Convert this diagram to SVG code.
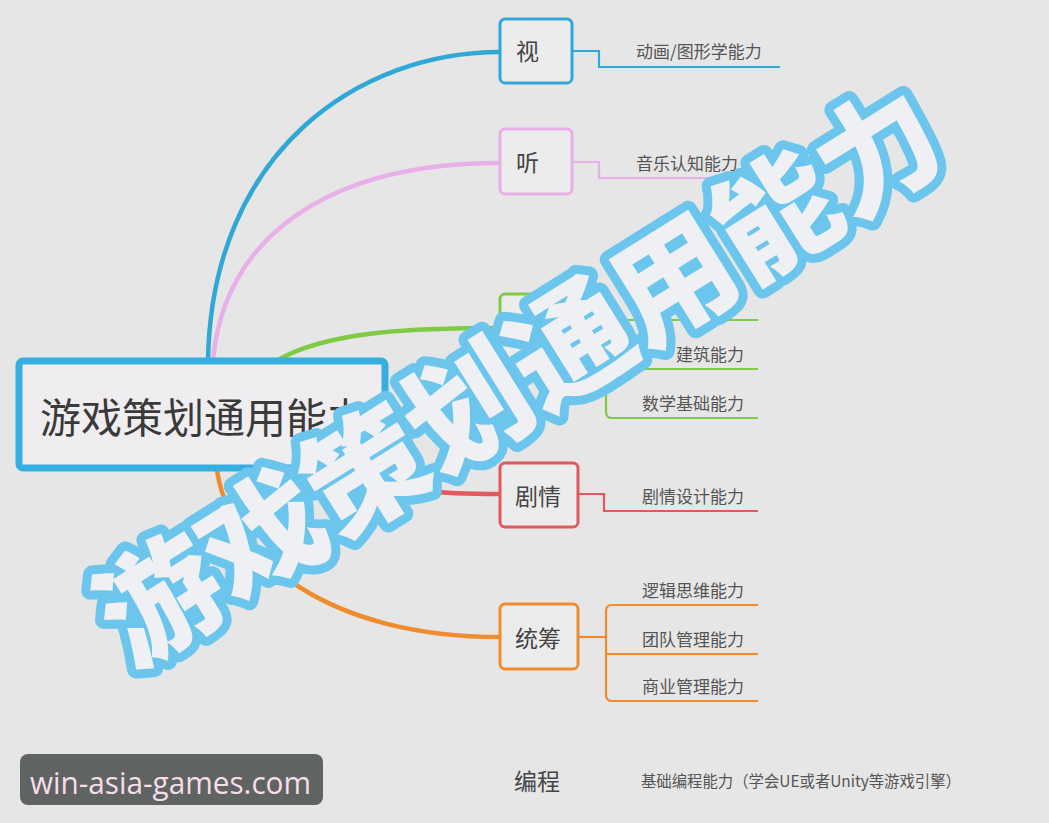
<svg xmlns="http://www.w3.org/2000/svg" width="1049" height="823" viewBox="0 0 1049 823">
  <style>
    .cjk { font-family: "Noto Sans CJK SC", "Noto Sans", sans-serif; }
    .node { fill: #ececed; stroke-width: 3; }
    .nlabel { font-size: 23px; fill: #444; }
    .sub { font-size: 17px; fill: #555; }
    .curve { fill: none; stroke-width: 4.5; stroke-linecap: round; }
    .branch { fill: none; stroke-width: 2.2; }
    .blue { stroke: #2fa8d5; }
    .pink { stroke: #e8b0e8; }
    .green { stroke: #7fcb45; }
    .red { stroke: #e2585c; }
    .orange { stroke: #ef8c2e; }
  </style>
  <rect x="0" y="0" width="1049" height="823" fill="#e6e6e6"/>

  <g id="connectors">
    <path class="curve blue" d="M208,360 C212,150 360,52 500,52"/>
    <path class="curve pink" d="M213,360 C225,235 330,163 500,163"/>
    <path class="curve green" d="M278,360 C330,330 420,328 500,328"/>
    <path class="curve red" d="M384,470 C410,494 440,494 500,494"/>
    <path class="curve orange" d="M217,470 C230,560 330,637 500,637"/>

    <path class="branch blue" d="M572,51 H599 V67 H780"/>
    <path class="branch pink" d="M572,162 H599 V178 H758"/>
    <path class="branch green" d="M572,328 H606"/>
    <path class="branch green" d="M758,320 H612 Q606,320 606,326 V412 Q606,418 612,418 H758"/>
    <path class="branch green" d="M606,369 H758"/>
    <path class="branch red" d="M578,494 H604 V511 H758"/>
    <path class="branch orange" d="M578,637 H606"/>
    <path class="branch orange" d="M758,605 H612 Q606,605 606,611 V695 Q606,701 612,701 H758"/>
    <path class="branch orange" d="M606,654 H758"/>
  </g>

  <g id="node-root">
    <rect x="19" y="361" width="366" height="107" rx="4" fill="#efedf0" stroke="#35afe2" stroke-width="7"/>
    <text class="cjk" x="40" y="433" font-size="41" fill="#3a3a3a">游戏策划通用能力</text>
  </g>

  <g id="node-shi">
    <rect class="node blue" x="500" y="19" width="72" height="64" rx="5" stroke-width="3.5"/>
    <text class="cjk nlabel" x="516" y="60">视</text>
    <text class="cjk sub" x="636" y="58">动画/图形学能力</text>
  </g>

  <g id="node-ting">
    <rect class="node pink" x="500" y="129" width="72" height="65" rx="5"/>
    <text class="cjk nlabel" x="516" y="171">听</text>
    <text class="cjk sub" x="636" y="170">音乐认知能力</text>
  </g>

  <g id="node-green">
    <rect class="node green" x="500" y="294" width="72" height="66" rx="5"/>
    <text class="cjk sub" x="676" y="361">建筑能力</text>
    <text class="cjk sub" x="642" y="410">数学基础能力</text>
  </g>

  <g id="node-juqing">
    <rect class="node red" x="500" y="463" width="78" height="64" rx="5"/>
    <text class="cjk nlabel" x="515" y="505">剧情</text>
    <text class="cjk sub" x="642" y="503">剧情设计能力</text>
  </g>

  <g id="node-tongchou">
    <rect class="node orange" x="500" y="604" width="78" height="65" rx="5"/>
    <text class="cjk nlabel" x="515" y="647">统筹</text>
    <text class="cjk sub" x="642" y="597">逻辑思维能力</text>
    <text class="cjk sub" x="642" y="646">团队管理能力</text>
    <text class="cjk sub" x="642" y="693">商业管理能力</text>
  </g>

  <g id="node-biancheng">
    <text class="cjk nlabel" x="514" y="790" fill="#555">编程</text>
    <text class="cjk" x="641" y="787" font-size="16" fill="#555" textLength="320" lengthAdjust="spacingAndGlyphs">基础编程能力（学会UE或者Unity等游戏引擎）</text>
  </g>

  <g id="overlay-title">
    <text class="cjk" x="520" y="420" font-size="121" font-weight="900" text-anchor="middle" fill="#eef0f3" stroke="#6cc5ec" stroke-width="18" stroke-linejoin="round" paint-order="stroke" transform="rotate(-32 520 377)">游戏策划通用能力</text>
  </g>

  <g id="watermark">
    <rect x="20" y="754" width="303" height="51" rx="8" fill="#5f6362"/>
    <text x="30" y="794" font-family="'Open Sans', 'Noto Sans', sans-serif" font-size="31" fill="#f6dde9" textLength="281" lengthAdjust="spacingAndGlyphs">win-asia-games.com</text>
  </g>
</svg>
